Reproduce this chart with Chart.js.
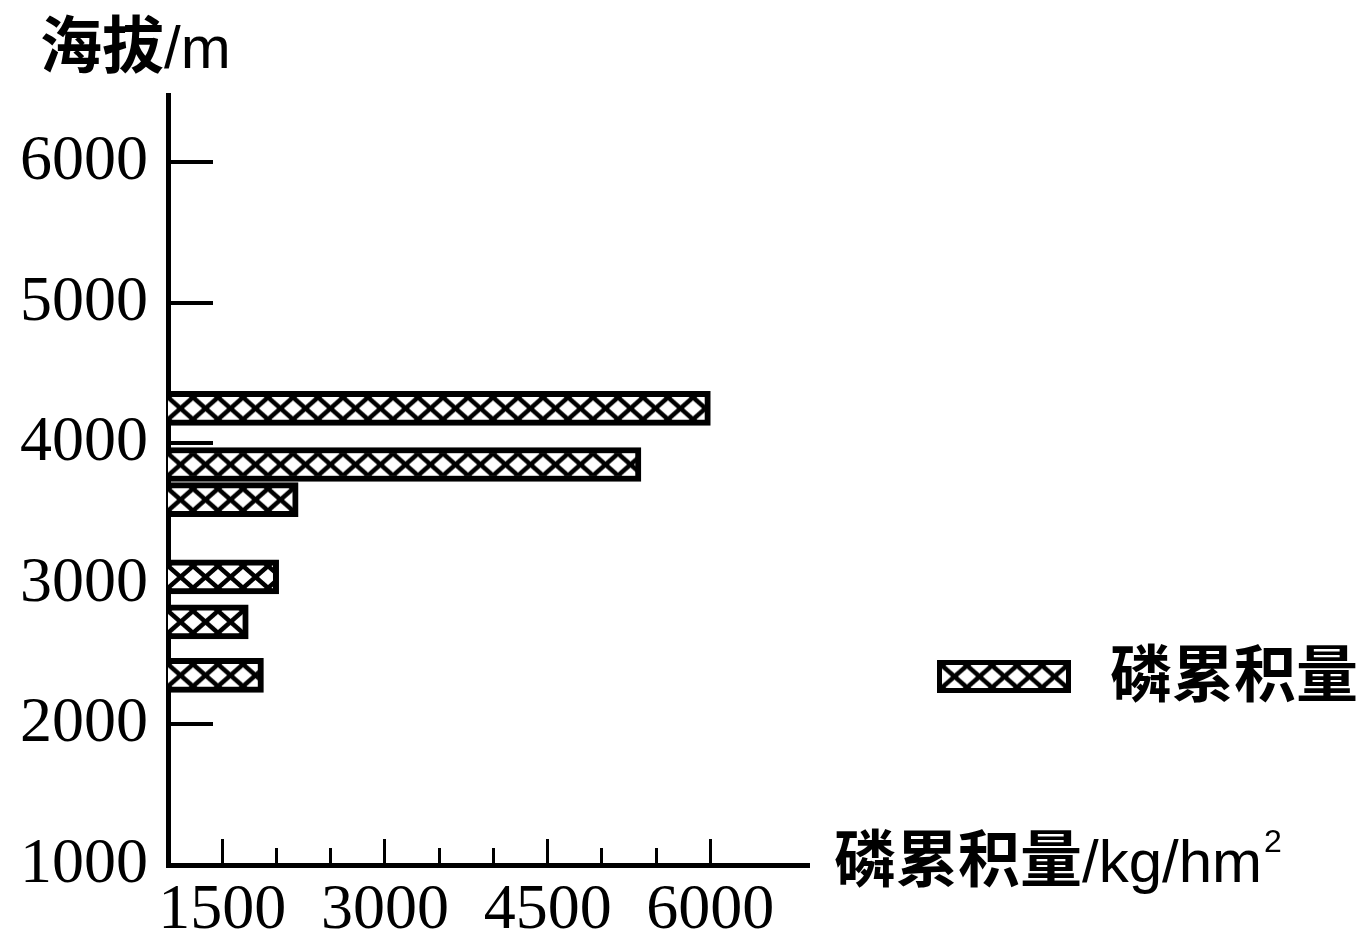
<!DOCTYPE html>
<html>
<head>
<meta charset="utf-8">
<script src="https://cdn.jsdelivr.net/npm/chart.js@4.4.0/dist/chart.umd.min.js"></script>
<style>
  html, body { margin: 0; padding: 0; background: #fff; }
</style>
</head>
<body>
<canvas id="phChart" width="1371" height="943"></canvas>
<script>
// 海拔 (m) 与 磷累积量 (kg/hm²)
const altitudes = [4250, 3850, 3600, 3050, 2730, 2350];
const phosphorus = [6000, 5360, 2200, 2020, 1740, 1880];
const yTicks = [1000, 2000, 3000, 4000, 5000, 6000];
const xTicks = [1000, 1500, 2000, 2500, 3000, 3500, 4000, 4500, 5000, 5500, 6000];
const xMajorTicks = [1500, 3000, 4500, 6000];
const seriesName = '磷累积量';
const yTitle = ['海拔', '/m', ''];
const xTitle = ['磷累积量', '/kg/hm', '2'];

const tickFont = { family: '"Liberation Serif", serif', size: 64 };
const cjkFont = 'bold 62px "Noto Sans CJK SC"';
const latinFont = '60px "Liberation Sans", sans-serif';
const supFont = '32px "Liberation Sans", sans-serif';

// 交叉斜线填充
const HW = 25, HH = 22;
const tile = document.createElement('canvas');
tile.width = HW; tile.height = HH;
const tc = tile.getContext('2d');
tc.fillStyle = '#fff';
tc.fillRect(0, 0, HW, HH);
tc.strokeStyle = '#000';
tc.lineWidth = 4.5;
[[0, 0], [-HW, 0], [HW, 0], [0, -HH], [0, HH]].forEach(([dx, dy]) => {
    tc.beginPath();
    tc.moveTo(dx, dy); tc.lineTo(dx + HW, dy + HH);
    tc.moveTo(dx, dy + HH); tc.lineTo(dx + HW, dy);
    tc.stroke();
});

function hatchAt(g, x0, y0) {
    const p = g.createPattern(tile, 'repeat');
    p.setTransform(new DOMMatrix().translate(x0, y0));
    return p;
}

function drawTitle(g, parts, x, y) {
    g.font = cjkFont;
    g.fillText(parts[0], x, y);
    x += g.measureText(parts[0]).width;
    g.font = latinFont;
    g.fillText(parts[1], x, y);
    x += g.measureText(parts[1]).width + 2;
    if (parts[2]) {
        g.font = supFont;
        g.fillText(parts[2], x, y - 30);
    }
}

function noPad(s) {
    s.paddingTop = 0; s.paddingBottom = 0;
    s.paddingLeft = 0; s.paddingRight = 0;
}

const annotations = {
    id: 'annotations',
    afterDraw(chart) {
        const g = chart.ctx;
        g.save();
        g.fillStyle = '#000';
        g.textBaseline = 'alphabetic';
        g.textAlign = 'left';
        drawTitle(g, yTitle, 40, 68);
        drawTitle(g, xTitle, 834, 882);

        // 图例
        const bx = 937, by = 660, bw = 134, bh = 33, bw0 = 5;
        g.fillStyle = '#000';
        g.fillRect(bx, by, bw, bh);
        g.fillStyle = hatchAt(g, bx + bw0, by + (bh - HH) / 2);
        g.fillRect(bx + bw0, by + bw0, bw - 2 * bw0, bh - 2 * bw0);
        g.fillStyle = '#000';
        g.font = cjkFont;
        g.fillText(seriesName, 1110, 697);
        g.restore();
    }
};

const ctx = document.getElementById('phChart').getContext('2d');
const phChart = new Chart(ctx, {
    type: 'bar',
    data: {
        datasets: [{
            label: seriesName,
            data: altitudes.map((a, i) => ({ x: phosphorus[i], y: a })),
            barThickness: 34,
            borderWidth: 6,
            borderColor: '#000',
            backgroundColor: c => {
                if (c.type !== 'data') return '#fff';
                const xs = c.chart.scales.x, ys = c.chart.scales.y;
                return hatchAt(c.chart.ctx, xs.getPixelForValue(1000), ys.getPixelForValue(altitudes[c.dataIndex]) - HH / 2);
            }
        }]
    },
    options: {
        indexAxis: 'y',
        responsive: false,
        animation: false,
        devicePixelRatio: 1,
        layout: { padding: { top: 95, right: 563, left: 0, bottom: 0 } },
        plugins: { legend: { display: false }, tooltip: { enabled: false } },
        scales: {
            x: {
                type: 'linear', min: 1000, max: 6900, offset: false,
                afterBuildTicks: s => { s.ticks = xTicks.map(v => ({ value: v })); },
                afterFit: s => { s.height = 78; noPad(s); },
                grid: { drawOnChartArea: false, offset: false, color: '#000', lineWidth: 3, tickLength: -17 },
                border: { color: '#000', width: 5 },
                ticks: {
                    color: '#000', padding: 25, font: tickFont, autoSkip: false,
                    maxRotation: 0, minRotation: 0,
                    callback: v => xMajorTicks.includes(v) ? String(v) : ''
                }
            },
            x2: {
                type: 'linear', axis: 'x', position: { y: 1000 }, min: 1000, max: 6900, offset: false,
                afterBuildTicks: s => { s.ticks = xMajorTicks.map(v => ({ value: v })); },
                afterFit: s => { s.height = 0; noPad(s); },
                grid: { drawOnChartArea: false, offset: false, color: '#000', lineWidth: 3, tickLength: -26 },
                border: { display: false },
                ticks: { display: false }
            },
            y: {
                type: 'linear', min: 1000, max: 6480, offset: false,
                afterBuildTicks: s => { s.ticks = yTicks.map(v => ({ value: v })); },
                afterFit: s => { s.width = 168; noPad(s); },
                grid: { drawOnChartArea: false, offset: false, color: '#000', lineWidth: 4, tickLength: -45 },
                border: { color: '#000', width: 5 },
                ticks: { color: '#000', padding: 65, font: tickFont, autoSkip: false, callback: v => String(v) }
            }
        }
    },
    plugins: [annotations]
});
</script>
</body>
</html>
